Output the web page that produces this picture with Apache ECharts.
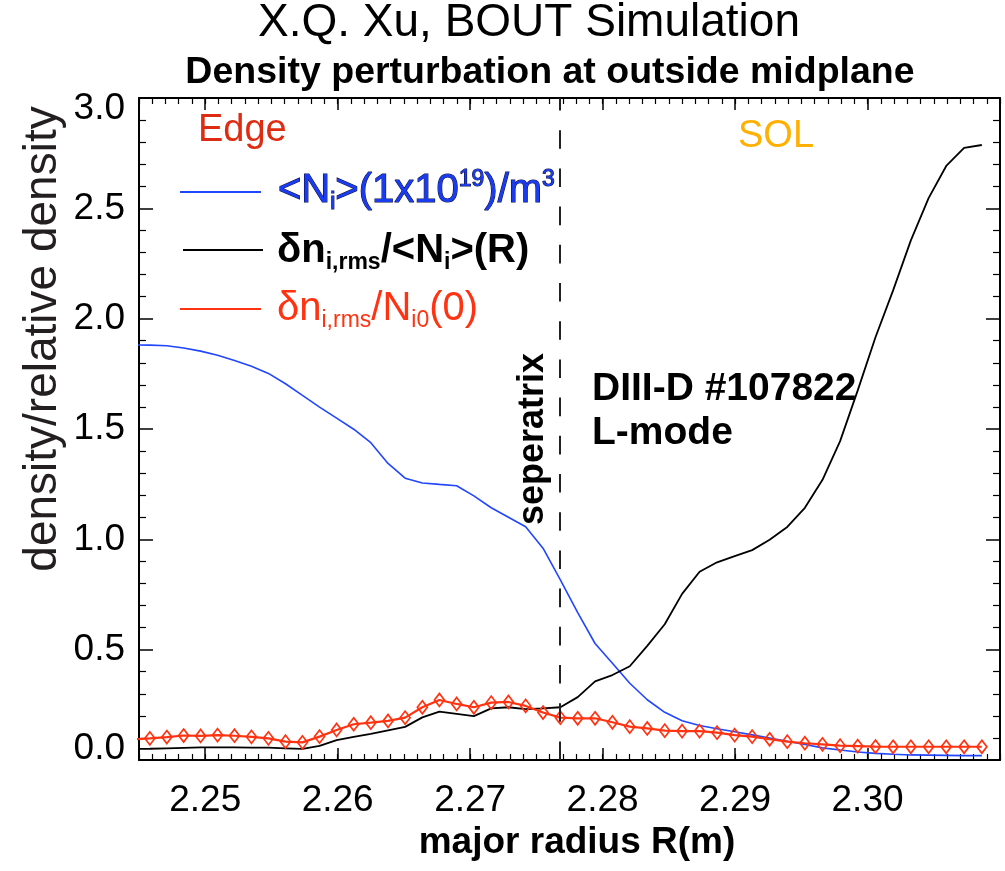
<!DOCTYPE html>
<html>
<head>
<meta charset="utf-8">
<script src="https://cdn.jsdelivr.net/npm/echarts@6/dist/echarts.min.js"></script>
<style>
html,body{margin:0;padding:0;background:#fff;}
#c{width:1005px;height:871px;}
</style>
</head>
<body>
<div id="c"></div>
<script>
// ---------------- data ----------------
// major radius R (m) of the simulation grid points
const R = [2.24455, 2.24582, 2.24710, 2.24837, 2.24965, 2.25093, 2.25221, 2.25349, 2.25477, 2.25606,
           2.25734, 2.25863, 2.25992, 2.26121, 2.26250, 2.26380, 2.26509, 2.26639, 2.26768, 2.26898,
           2.27028, 2.27159, 2.27289, 2.27419, 2.27550, 2.27681, 2.27812, 2.27943, 2.28074, 2.28205,
           2.28337, 2.28469, 2.28600, 2.28732, 2.28864, 2.28997, 2.29129, 2.29261, 2.29394, 2.29527,
           2.29660, 2.29793, 2.29926, 2.30060, 2.30193, 2.30327, 2.30461, 2.30594, 2.30729, 2.30863];
// <Ni> (1e19 / m^3)  -- blue
const niAvg = [1.881, 1.880, 1.877, 1.867, 1.853, 1.834, 1.810, 1.784, 1.752, 1.705,
               1.652, 1.599, 1.549, 1.499, 1.438, 1.344, 1.277, 1.255, 1.249, 1.243,
               1.197, 1.143, 1.100, 1.057, 0.960, 0.816, 0.668, 0.528, 0.438, 0.348,
               0.273, 0.216, 0.178, 0.156, 0.142, 0.128, 0.114, 0.100, 0.085, 0.070,
               0.055, 0.045, 0.036, 0.030, 0.026, 0.023, 0.022, 0.021, 0.020, 0.020];
// dn_rms / <Ni>(R)  -- black
const relRms = [0.050, 0.051, 0.053, 0.055, 0.057, 0.057, 0.057, 0.056, 0.056, 0.053,
                0.050, 0.064, 0.090, 0.105, 0.118, 0.134, 0.150, 0.193, 0.219, 0.209,
                0.199, 0.234, 0.239, 0.231, 0.234, 0.239, 0.285, 0.356, 0.385, 0.425,
                0.517, 0.615, 0.753, 0.853, 0.896, 0.924, 0.951, 0.998, 1.056, 1.143,
                1.270, 1.445, 1.675, 1.916, 2.128, 2.355, 2.546, 2.692, 2.774, 2.787];
// dn_rms / Ni0(0)  -- red with diamonds
const normRms = [0.094, 0.098, 0.104, 0.111, 0.109, 0.113, 0.110, 0.105, 0.098, 0.083,
                 0.080, 0.106, 0.136, 0.162, 0.169, 0.177, 0.192, 0.239, 0.272, 0.254,
                 0.239, 0.260, 0.263, 0.245, 0.215, 0.192, 0.189, 0.189, 0.171, 0.151,
                 0.143, 0.133, 0.131, 0.131, 0.124, 0.113, 0.106, 0.094, 0.083, 0.076,
                 0.071, 0.065, 0.063, 0.061, 0.060, 0.060, 0.060, 0.060, 0.060, 0.060];
const separatrixR = 2.2768;
const xRange = [2.245, 2.31];
const yRange = [0, 3];
const yStep = 0.5;
const xMinorStep = 0.001;

// ---------------- chart ----------------
const F = '"Liberation Sans", Arial, Helvetica, sans-serif';
const BLUE = '#2146ff', RED = '#ff3311', BLACK = '#000';
const pair = ys => R.map((r, i) => [r, ys[i]]);

const axisLineStyle = {show: true, lineStyle: {color: '#000', width: 2}};
function xAx(pos, minor, labels) {
  const a = {
    type: 'value', position: pos, min: xRange[0], max: xRange[1],
    axisLine: minor ? {show: false} : axisLineStyle,
    axisTick: {show: true, inside: true, length: minor ? 6 : 12,
               lineStyle: {color: '#000', width: minor ? 1.2 : 1.5}},
    axisLabel: {show: false},
    splitLine: {show: false}
  };
  if (minor) a.interval = xMinorStep; else a.splitNumber = 6;
  if (labels) {
    a.axisLabel = {show: true, margin: 22, fontSize: 37, fontFamily: F, color: '#000',
                   showMinLabel: false, showMaxLabel: false,
                   formatter: v => v.toFixed(2)};
    a.name = 'major radius R(m)';
    a.nameLocation = 'middle';
    a.nameGap = 60;
    a.nameTextStyle = {fontFamily: F, fontSize: 37, fontWeight: 'bold', color: '#000',
                       padding: [0, 0, 0, 15]};
  }
  return a;
}
function yAx(pos, labels) {
  const lab = {fontSize: 37, fontFamily: F, color: '#000'};
  return {
    type: 'value', position: pos, min: yRange[0], max: yRange[1], interval: yStep,
    axisLine: axisLineStyle,
    axisTick: {show: true, inside: true, length: 14, lineStyle: {color: '#000', width: 1.5}},
    minorTick: {show: true, splitNumber: 5, length: 7, lineStyle: {color: '#000', width: 1.2}},
    splitLine: {show: false},
    minorSplitLine: {show: false},
    axisLabel: labels ? {
      show: true, margin: 14, fontSize: 37, fontFamily: F, color: '#000',
      formatter: v => v === yRange[0] ? '{lo|' + v.toFixed(1) + '}'
                    : v === yRange[1] ? '{hi|' + v.toFixed(1) + '}' : v.toFixed(1),
      rich: {lo: Object.assign({padding: [0, 0, 22, 0]}, lab),
             hi: Object.assign({padding: [22, 0, 0, 0]}, lab)}
    } : {show: false}
  };
}

const legendRich = (color, weight, extra) => {
  const base = Object.assign({fill: color, fontFamily: F, fontWeight: weight}, extra || {});
  return {
    a: Object.assign({fontSize: 40, lineHeight: 46}, base),
    s: Object.assign({fontSize: 23, lineHeight: 38, verticalAlign: 'bottom'}, base),
    p: Object.assign({fontSize: 23, lineHeight: 24, verticalAlign: 'top'}, base)
  };
};

const option = {
  animation: false,
  backgroundColor: '#fff',
  textStyle: {fontFamily: F},
  title: [
    {text: 'X.Q. Xu, BOUT Simulation', left: 529, top: 0, textAlign: 'center', padding: 0,
     textStyle: {fontFamily: F, fontSize: 46, fontWeight: 'normal', color: '#000'}},
    {text: 'Density perturbation at outside midplane', left: 550, top: 54, textAlign: 'center', padding: 0,
     textStyle: {fontFamily: F, fontSize: 37.5, fontWeight: 'bold', color: '#000'}}
  ],
  grid: {left: 139, right: 5, top: 98, bottom: 111},
  xAxis: [xAx('bottom', false, true), xAx('bottom', true, false), xAx('top', false, false), xAx('top', true, false)],
  yAxis: [yAx('left', true), yAx('right', false)],
  series: [
    {name: '<Ni>(1x10^19)/m^3', type: 'line', xAxisIndex: 0, yAxisIndex: 0, data: pair(niAvg),
     showSymbol: false, symbol: 'none', lineStyle: {color: BLUE, width: 1.6}, itemStyle: {color: BLUE}, z: 3},
    {name: 'δni,rms/<Ni>(R)', type: 'line', xAxisIndex: 0, yAxisIndex: 0, data: pair(relRms),
     showSymbol: false, symbol: 'none', lineStyle: {color: BLACK, width: 1.8}, itemStyle: {color: BLACK}, z: 3,
     markLine: {silent: true, symbol: ['none', 'none'], label: {show: false}, animation: false,
       lineStyle: {color: '#222', width: 2, type: [18.6, 19.6]},
       data: [[{coord: [separatrixR, yRange[0]]}, {coord: [separatrixR, yRange[1]]}]]}},
    {name: 'δni,rms/Ni0(0)', type: 'line', xAxisIndex: 0, yAxisIndex: 0, data: pair(normRms),
     symbol: 'diamond', symbolSize: [10, 13], showSymbol: true,
     lineStyle: {color: RED, width: 2.2},
     itemStyle: {color: 'rgba(255,255,255,0)', borderColor: RED, borderWidth: 1.7}, z: 4}
  ],
  graphic: [
    // y axis title
    {type: 'text', x: 43, y: 339, rotation: Math.PI / 2, silent: true,
     style: {text: 'density/relative density', align: 'center', verticalAlign: 'middle',
             fontFamily: F, fontSize: 46, fill: '#231f20'}},
    // region labels
    {type: 'text', x: 198, y: 131, silent: true,
     style: {text: 'Edge', align: 'left', verticalAlign: 'middle', fontFamily: F, fontSize: 38, fill: '#dd2c12'}},
    {type: 'text', x: 738, y: 137, silent: true,
     style: {text: 'SOL', align: 'left', verticalAlign: 'middle', fontFamily: F, fontSize: 38, fill: '#ffb000'}},
    // shot info
    {type: 'text', x: 592, y: 389, silent: true,
     style: {text: 'DIII-D #107822', align: 'left', verticalAlign: 'middle', fontFamily: F, fontSize: 39, fontWeight: 'bold', fill: '#000'}},
    {type: 'text', x: 592, y: 433, silent: true,
     style: {text: 'L-mode', align: 'left', verticalAlign: 'middle', fontFamily: F, fontSize: 39, fontWeight: 'bold', fill: '#000'}},
    // separatrix label
    {type: 'text', x: 533, y: 439, rotation: Math.PI / 2, silent: true,
     style: {text: 'seperatrix', align: 'center', verticalAlign: 'middle', fontFamily: F, fontSize: 36, fontWeight: 'bold', fill: '#000'}},
    // legend
    {type: 'line', silent: true, shape: {x1: 180, y1: 192, x2: 261, y2: 192}, style: {stroke: BLUE, lineWidth: 2}},
    {type: 'text', x: 278, y: 191, silent: true,
     style: {text: '{a|<N}{s|i}{a|>(1x10}{p|19}{a|)/m}{p|3}', align: 'left', verticalAlign: 'middle',
             rich: legendRich('#1a3cf0', 'normal', {stroke: '#0b0b3a', lineWidth: 1.1})}},
    {type: 'line', silent: true, shape: {x1: 183, y1: 250, x2: 263, y2: 250}, style: {stroke: BLACK, lineWidth: 2}},
    {type: 'text', x: 277, y: 251, silent: true,
     style: {text: '{a|δn}{s|i,rms}{a|/<N}{s|i}{a|>(R)}', align: 'left', verticalAlign: 'middle',
             rich: legendRich('#000', 'bold')}},
    {type: 'line', silent: true, shape: {x1: 180, y1: 309, x2: 261, y2: 309}, style: {stroke: RED, lineWidth: 2}},
    {type: 'text', x: 277, y: 309, silent: true,
     style: {text: '{a|δn}{s|i,rms}{a|/N}{s|i0}{a|(0)}', align: 'left', verticalAlign: 'middle',
             rich: legendRich(RED, 'normal')}}
  ]
};

const chart = echarts.init(document.getElementById('c'), null, {renderer: 'canvas'});
chart.setOption(option);
</script>
</body>
</html>
